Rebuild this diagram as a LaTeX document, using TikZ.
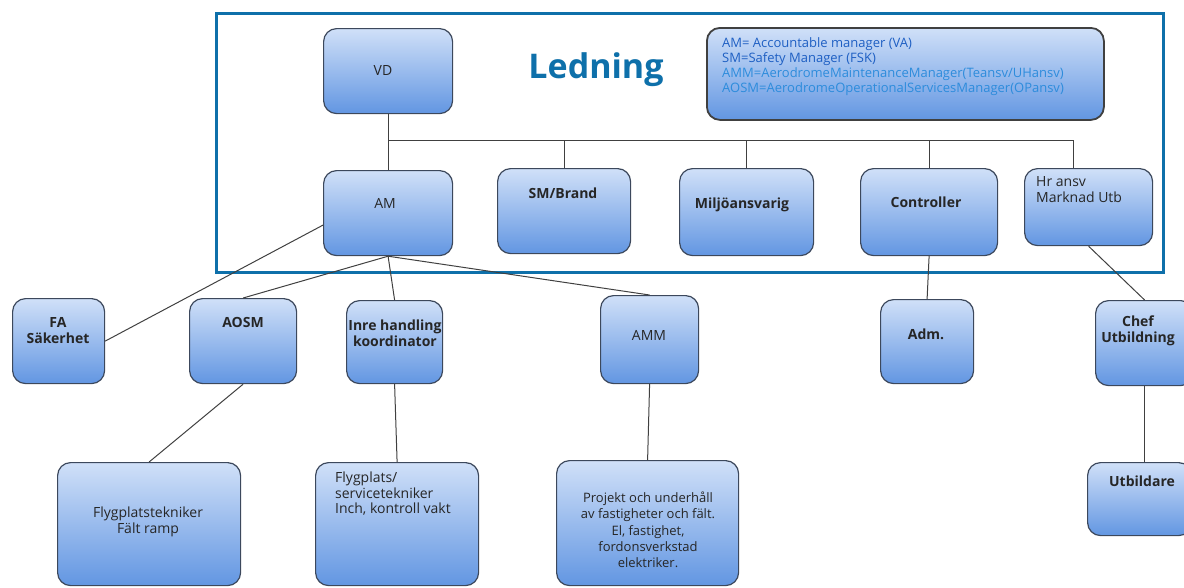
\documentclass[tikz,border=0pt]{standalone}
\usepackage{fontspec}
\setmainfont{Open Sans}
\usetikzlibrary{positioning, calc}

\definecolor{frameblue}{RGB}{14,112,170}
\definecolor{boxtop}{RGB}{208,224,248}
\definecolor{boxbot}{RGB}{98,150,226}
\definecolor{boxline}{RGB}{60,72,92}
\definecolor{keydark}{RGB}{30,95,195}
\definecolor{keylight}{RGB}{45,140,220}

\tikzset{
	unit/.style={draw=boxline, line width=1.2pt, rounded corners=13pt, top color=boxtop, bottom color=boxbot, anchor=north west, inner sep=0pt},
	txt/.style={font=\bfseries\fontsize{14}{16}\selectfont, text=black!85, align=center, inner sep=0pt},
	plain/.style={font=\fontsize{14}{16}\selectfont, text=black!85, align=center, inner sep=0pt},
	keytxt/.style={font=\fontsize{13}{15}\selectfont, align=left, inner sep=0pt, anchor=north west},
	link/.style={draw=black!75, line width=1pt}
}

\begin{document}
\begin{tikzpicture}[x=1pt, y=-1pt]
	\useasboundingbox (0,0) rectangle (1184,587);

	% ledning frame
	\draw[frameblue, line width=3pt] (216,13) rectangle (1163,272);
	\node[font=\bfseries\fontsize{34}{40}\selectfont, text=frameblue, inner sep=0pt] (title) at (596,70) {Ledning};

	% key
	\node[unit, draw=black!75, line width=1.8pt, minimum width=397pt, minimum height=92pt] (key) at (706,27) {};
	\node[keytxt] (keytext) at (722,37) {\textcolor{keydark}{AM= Accountable manager (VA)}\\
		\textcolor{keydark}{SM=Safety Manager (FSK)}\\
		\textcolor{keylight}{AMM=AerodromeMaintenanceManager(Teansv/UHansv)}\\
		\textcolor{keylight}{AOSM=AerodromeOperationalServicesManager(OPansv)}};

	% boxes
	\node[unit, minimum width=129pt, minimum height=85pt] (vd) at (323,28) {};
	\node[unit, minimum width=129pt, minimum height=85pt] (am) at (323,170) {};
	\node[unit, minimum width=133pt, minimum height=85pt] (sm) at (497,168) {};
	\node[unit, minimum width=134pt, minimum height=87pt] (miljo) at (679,168) {};
	\node[unit, minimum width=137pt, minimum height=87pt] (ctrl) at (860,168) {};
	\node[unit, minimum width=128pt, minimum height=77pt] (hr) at (1024,168) {};

	\node[unit, minimum width=92pt, minimum height=85pt] (fa) at (12,298) {};
	\node[unit, minimum width=107pt, minimum height=85pt] (aosm) at (189,298) {};
	\node[unit, minimum width=96pt, minimum height=83pt] (inre) at (346,300) {};
	\node[unit, minimum width=98pt, minimum height=88pt] (amm) at (600,295) {};
	\node[unit, minimum width=93pt, minimum height=84pt] (adm) at (880,299) {};
	\node[unit, minimum width=98pt, minimum height=85pt] (chef) at (1095,300) {};

	\node[unit, minimum width=183pt, minimum height=123pt] (flyg) at (57,462) {};
	\node[unit, minimum width=163pt, minimum height=123pt] (service) at (315,462) {};
	\node[unit, minimum width=182pt, minimum height=125pt] (proj) at (556,460) {};
	\node[unit, minimum width=104pt, minimum height=73pt] (utb) at (1087,462) {};

	% texts
	\node[plain] (vd-txt) at (383,70) {VD};
	\node[plain] (am-txt) at (385,203) {AM};
	\node[txt] (sm-txt) at (563,193) {SM/Brand};
	\node[txt] (miljo-txt) at (742,205) {Miljöansvarig};
	\node[txt] (ctrl-txt) at (926,202) {Controller};
	\node[plain, align=left, anchor=north west] (hr-txt) at (1036,176) {Hr ansv\\Marknad Utb};
	\node[txt] (fa-txt) at (58,331) {FA\\Säkerhet};
	\node[txt] (aosm-txt) at (243,322) {AOSM};
	\node[txt] (inre-txt) at (395,333) {Inre handling\\koordinator};
	\node[plain] (amm-txt) at (649,335) {AMM};
	\node[txt] (adm-txt) at (926,334) {Adm.};
	\node[txt] (chef-txt) at (1138,331) {Chef\\Utbildning};
	\node[plain] (flyg-txt) at (148,522) {Flygplatstekniker\\Fält ramp};
	\node[plain, align=left, anchor=north west, font=\fontsize{14}{15.5}\selectfont] (service-txt) at (335,472) {Flygplats/\\servicetekniker\\Inch, kontroll vakt};
	\node[plain, font=\fontsize{13}{16.3}\selectfont] (proj-txt) at (648,530) {Projekt och underhåll\\av fastigheter och fält.\\El, fastighet,\\fordonsverkstad\\elektriker.};
	\node[txt] (utb-txt) at (1142,481) {Utbildare};

	% connectors
	\coordinate (bus) at (0,140);
	\draw[link] (vd.south) -- (am.north);
	\draw[link] (vd.south |- bus) -| ([xshift=-15pt]hr.north);
	\draw[link] (sm.north) -- (sm.north |- bus);
	\draw[link] (miljo.north) -- (miljo.north |- bus);
	\draw[link] (ctrl.north) -- (ctrl.north |- bus);

	\draw[link] ([yshift=-12pt]am.west) -- (fa.east);
	\draw[link] (am.south) -- (aosm.north);
	\draw[link] (am.south) -- (inre.north);
	\draw[link] (am.south) -- (amm.north);
	\draw[link] (aosm.south) -- (flyg.north);
	\draw[link] (inre.south) -- (service.north);
	\draw[link] (amm.south) -- (proj.north);
	\draw[link] (ctrl.south) -- (adm.north);
	\draw[link] (hr.south) -- (chef.north);
	\draw[link] (chef.south) -- (chef.south |- utb.north);
\end{tikzpicture}
\end{document}
